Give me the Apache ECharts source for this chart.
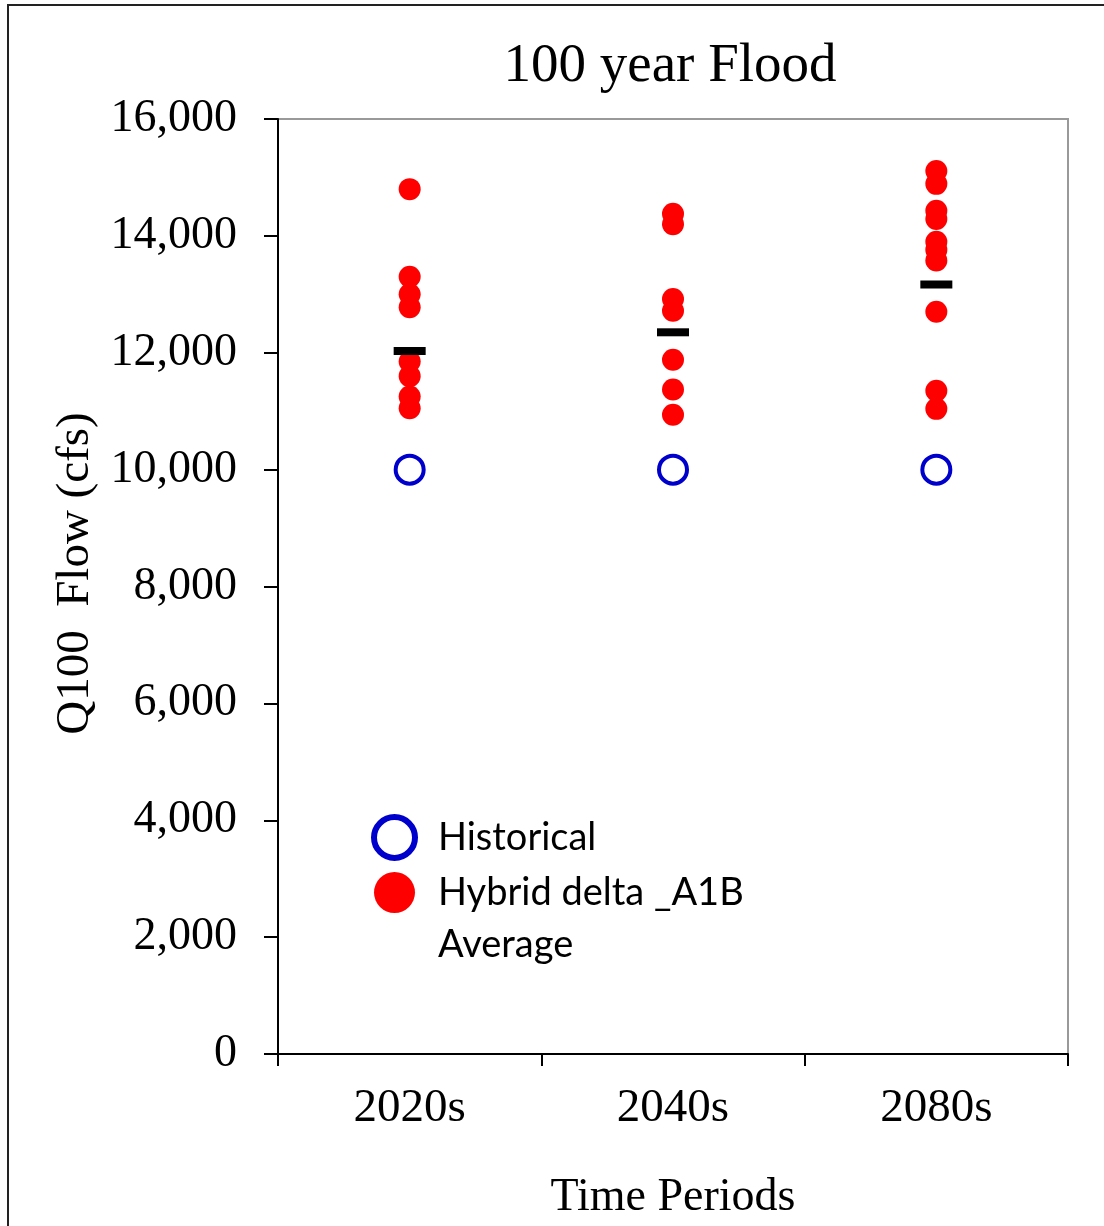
<!DOCTYPE html>
<html>
<head>
<meta charset="utf-8">
<title>100 year Flood</title>
<script src="https://cdn.jsdelivr.net/npm/echarts@6/dist/echarts.min.js"></script>
<style>
  html, body { margin: 0; padding: 0; background: #ffffff; }
  #chart { width: 1104px; height: 1226px; }
</style>
</head>
<body>
<div id="chart"></div>
<script>
// Time periods on the x axis
const periods = ['2020s', '2040s', '2080s'];

// Historical Q100 flow (cfs) for each period
const historical = [10000, 10000, 10000];

// Hybrid delta A1B Q100 flow (cfs), one list per period
const hybrid2020s = [14800, 13300, 13000, 12780, 11850, 11600, 11250, 11050];
const hybrid2040s = [14380, 14200, 12920, 12720, 11880, 11370, 10940];
const hybrid2080s = [15110, 14890, 14430, 14290, 13900, 13760, 13580, 12700, 11350, 11040];

// Average of the hybrid delta runs per period
const average = [12030, 12350, 13170];

// Y axis ticks
const yMin = 0, yMax = 16000, yStep = 2000;

const serif = '"Liberation Serif", "Times New Roman", serif';
const sans = 'Lato, "Open Sans", sans-serif';

const hybridPoints = [];
[hybrid2020s, hybrid2040s, hybrid2080s].forEach(function (list, i) {
  list.forEach(function (v) { hybridPoints.push([periods[i], v]); });
});

const chart = echarts.init(document.getElementById('chart'), null, { renderer: 'canvas' });

chart.setOption({
  backgroundColor: '#ffffff',
  animation: false,
  title: {
    text: '100 year Flood',
    left: 665,
    textAlign: 'center',
    top: 34,
    textStyle: { fontFamily: serif, fontSize: 55, fontWeight: 'normal', color: '#000' }
  },
  grid: {
    left: 278, right: 36, top: 119, bottom: 171,
    show: true, borderColor: '#999999', borderWidth: 2, backgroundColor: 'transparent'
  },
  legend: {
    orient: 'vertical',
    left: 371, top: 814,
    padding: 0,
    itemWidth: 41, itemHeight: 41, itemGap: 11,
    textStyle: { fontFamily: sans, fontSize: 38, color: '#000', padding: [0, 0, 0, 18] },
    data: [
      { name: 'Historical', icon: 'circle', itemStyle: { color: '#ffffff', borderColor: '#0000cc', borderWidth: 6 } },
      { name: 'Hybrid delta _A1B', icon: 'circle' },
      { name: 'Average', itemStyle: { opacity: 0 } }
    ]
  },
  xAxis: {
    type: 'category',
    data: periods,
    boundaryGap: true,
    name: 'Time Periods',
    nameLocation: 'middle',
    nameGap: 121,
    nameTextStyle: { fontFamily: serif, fontSize: 46, color: '#000' },
    axisLine: { lineStyle: { color: '#000', width: 2 } },
    axisTick: { show: true, length: 12, inside: false, alignWithLabel: false, lineStyle: { color: '#000', width: 2 } },
    axisLabel: { fontFamily: serif, fontSize: 47, color: '#000', margin: 31 },
    splitLine: { show: false }
  },
  yAxis: {
    type: 'value',
    min: yMin, max: yMax, interval: yStep,
    name: 'Q100  Flow (cfs)',
    nameLocation: 'middle',
    nameGap: 179,
    nameTextStyle: { fontFamily: serif, fontSize: 47, color: '#000', padding: [0, 0, 0, 26] },
    axisLine: { show: true, lineStyle: { color: '#000', width: 2 } },
    axisTick: { show: true, length: 14, inside: false, lineStyle: { color: '#000', width: 2 } },
    axisLabel: {
      fontFamily: serif, fontSize: 46, color: '#000', margin: 41,
      formatter: function (v) { return v.toLocaleString('en-US'); }
    },
    splitLine: { show: false }
  },
  graphic: [
    {
      type: 'polyline',
      silent: true,
      shape: { points: [[8, 1226], [8, 5], [1104, 5]] },
      style: { stroke: '#222', lineWidth: 2, fill: null }
    }
  ],
  series: [
    {
      name: 'Historical',
      type: 'scatter',
      symbol: 'circle',
      symbolSize: 28,
      itemStyle: { color: '#ffffff', borderColor: '#0000cc', borderWidth: 4, opacity: 1 },
      data: periods.map(function (p, i) { return [p, historical[i]]; }),
      z: 3
    },
    {
      name: 'Hybrid delta _A1B',
      type: 'scatter',
      symbol: 'circle',
      symbolSize: 22,
      itemStyle: { color: '#ff0000', opacity: 1 },
      data: hybridPoints,
      z: 2
    },
    {
      name: 'Average',
      type: 'scatter',
      symbol: 'rect',
      symbolSize: [32, 8],
      itemStyle: { color: '#000000', opacity: 1 },
      data: periods.map(function (p, i) { return [p, average[i]]; }),
      z: 4
    }
  ]
});
</script>
</body>
</html>
